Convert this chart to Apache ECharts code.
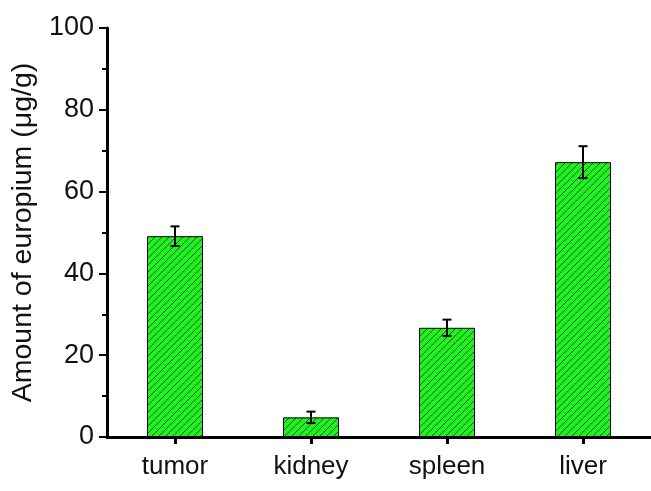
<!DOCTYPE html>
<html>
<head>
<meta charset="utf-8">
<script src="https://cdn.jsdelivr.net/npm/echarts@6/dist/echarts.min.js"></script>
<style>
  html, body { margin: 0; padding: 0; background: #fff; }
  #chart { width: 651px; height: 491px; }
</style>
</head>
<body>
<div id="chart"></div>
<script>
const categories = ['tumor', 'kidney', 'spleen', 'liver'];
const amounts = [49.1, 4.8, 26.7, 67.2];
const errors = [2.4, 1.4, 2.0, 3.9];
const yTicks = [0, 20, 40, 60, 80, 100];

// hatch pattern: green fill with dark "/" lines
const hatch = document.createElement('canvas');
hatch.width = 7;
hatch.height = 7;
const hc = hatch.getContext('2d');
hc.fillStyle = '#1cf51c';
hc.fillRect(0, 0, 7, 7);
hc.strokeStyle = '#1d4a1d';
hc.lineWidth = 1;
[-7, 0, 7].forEach(k => {
  hc.beginPath();
  hc.moveTo(k, 7);
  hc.lineTo(k + 7, 0);
  hc.stroke();
});

const errData = categories.map((c, i) => [i, amounts[i] - errors[i], amounts[i] + errors[i]]);

const font = 'Liberation Sans, Arial, sans-serif';
const chart = echarts.init(document.getElementById('chart'), null, { renderer: 'canvas' });

chart.setOption({
  animation: false,
  backgroundColor: '#fff',
  textStyle: { fontFamily: font, color: '#000' },
  grid: { left: 107, top: 28, width: 548, height: 409, containLabel: false },
  xAxis: {
    type: 'category',
    data: categories,
    axisLine: { lineStyle: { color: '#000', width: 3 } },
    axisTick: { show: true, alignWithLabel: true, length: 7, inside: false, lineStyle: { color: '#000', width: 3 } },
    axisLabel: { color: '#111', fontSize: 26, margin: 17, fontFamily: font }
  },
  yAxis: {
    type: 'value',
    min: 0,
    max: 100,
    interval: 20,
    name: 'Amount of europium (\u03bcg/g)',
    nameLocation: 'middle',
    nameGap: 67,
    nameTextStyle: { color: '#111', fontSize: 28.5, fontFamily: font },
    axisLine: { show: true, lineStyle: { color: '#000', width: 3 } },
    axisTick: { show: true, length: 8, lineStyle: { color: '#000', width: 2 } },
    minorTick: { show: true, splitNumber: 2, length: 5, lineStyle: { color: '#000', width: 2 } },
    splitLine: { show: false },
    axisLabel: {
      color: '#111', fontSize: 27, margin: 13,
      fontFamily: font,
      formatter: v => (yTicks.indexOf(v) >= 0 ? String(v) : '')
    }
  },
  series: [
    {
      type: 'bar',
      data: amounts,
      barWidth: 56,
      itemStyle: {
        color: { image: hatch, repeat: 'repeat' },
        borderColor: '#000',
        borderWidth: 1
      },
      z: 2
    },
    {
      type: 'custom',
      data: errData,
      z: 3,
      renderItem: function (params, api) {
        const x = api.value(0);
        const lo = api.coord([x, api.value(1)]);
        const hi = api.coord([x, api.value(2)]);
        const cap = 4.5;
        const st = { stroke: '#000', lineWidth: 2 };
        return {
          type: 'group',
          children: [
            { type: 'line', shape: { x1: lo[0], y1: lo[1], x2: hi[0], y2: hi[1] }, style: st },
            { type: 'line', shape: { x1: lo[0] - cap, y1: lo[1], x2: lo[0] + cap, y2: lo[1] }, style: st },
            { type: 'line', shape: { x1: hi[0] - cap, y1: hi[1], x2: hi[0] + cap, y2: hi[1] }, style: st }
          ]
        };
      }
    }
  ]
});
</script>
</body>
</html>
